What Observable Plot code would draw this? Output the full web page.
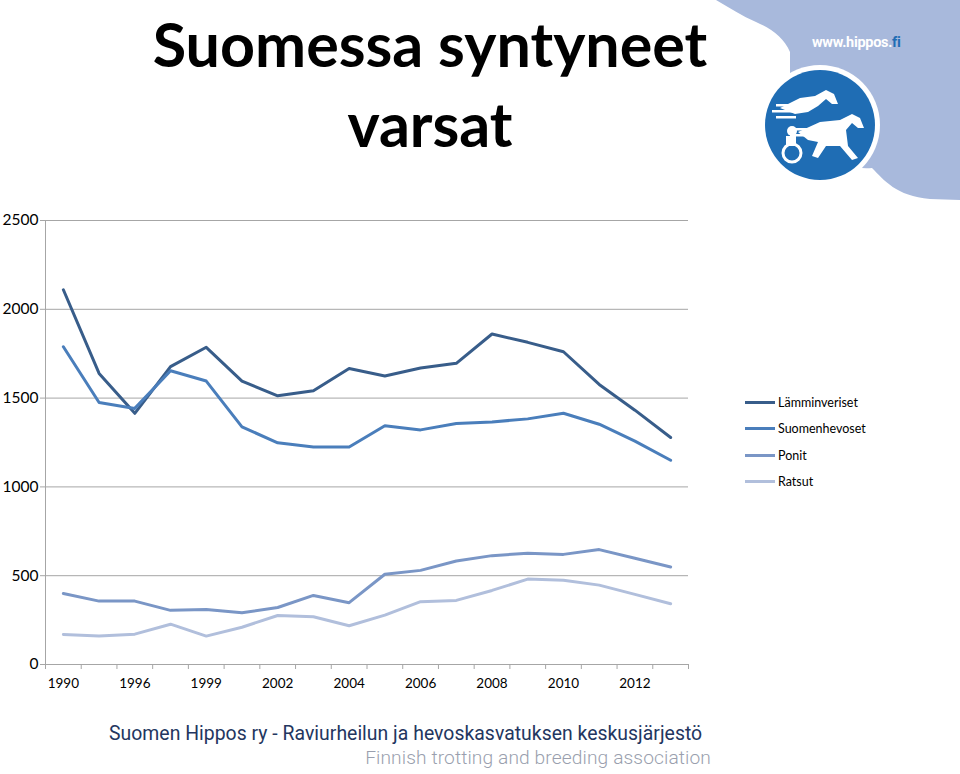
<!DOCTYPE html>
<html>
<head>
<meta charset="utf-8">
<script src="https://cdn.jsdelivr.net/npm/d3@7"></script>
<script src="https://cdn.jsdelivr.net/npm/@observablehq/plot@0.6"></script>
<style>
  html, body { margin: 0; padding: 0; background: #fff; }
  #wrap { position: relative; width: 960px; height: 774px; overflow: hidden; background: #fff; font-family: Lato, "Open Sans", sans-serif; }
  .title { position: absolute; left: 130px; width: 600px; text-align: center; font-family: Lato, sans-serif; font-weight: 700; font-size: 61px; color: #000; line-height: 1; }
  #chart { position: absolute; left: 0; top: 200px; }
  #legend { position: absolute; left: 745px; top: 389px; font-family: Lato, sans-serif; font-size: 12.5px; color: #000; }
  .lg { display: flex; align-items: center; height: 26.5px; }
  .lg span.sw { display: inline-block; width: 30px; height: 3px; margin-right: 3px; }
  .foot1 { position: absolute; left: 109px; top: 724px; line-height: 19px; font-family: Roboto, sans-serif; font-size: 19.4px; color: #233660; white-space: nowrap; letter-spacing: 0.02px; }
  .foot2 { position: absolute; right: 249px; top: 749px; line-height: 18px; font-family: Roboto, sans-serif; font-weight: 300; font-size: 19.2px; color: #9a9fae; white-space: nowrap; letter-spacing: 0.1px; }
  #logo { position: absolute; left: 0; top: 0; }
</style>
</head>
<body>
<div id="wrap">
  <svg id="logo" width="960" height="210">
    <path d="M716,0 C730,8 742,16 756,22 C772,29 784,38 790,52 L790,120 C800,160 850,170 872,168 C884,180 896,196 930,199 L960,200 L960,0 Z" fill="#a8b9dc"/>
    <circle cx="820" cy="125" r="60" fill="#fff"/>
    <circle cx="820" cy="125" r="55" fill="#1f6db4"/>
    <g fill="#fff">
      <path d="M780,108 L800,98 L815,96 L826,90 L834,94 L838,104 L832,104 L826,99 L818,106 L808,112 L795,114 Z"/>
      <path d="M798,132 L820,122 L840,120 L852,114 L860,118 L864,128 L858,128 L852,123 L846,130 L848,146 L858,158 L852,160 L840,146 L826,146 L818,158 L812,156 L818,142 L808,140 Z"/>
      <rect x="776" y="104" width="22" height="2.5"/>
      <rect x="772" y="110" width="24" height="2.5"/>
      <rect x="776" y="116" width="20" height="2.5"/>
      <rect x="792" y="128" width="22" height="2.5"/>
      <rect x="790" y="134" width="20" height="2.5"/>
      <circle cx="792" cy="131" r="5"/>
      <rect x="786" y="136" width="10" height="10"/>
    </g>
    <circle cx="792" cy="153" r="9" fill="none" stroke="#fff" stroke-width="3"/>
    <text x="812" y="47" font-family="Roboto, sans-serif" font-weight="700" font-size="14.5" fill="#fff" letter-spacing="-0.3">www.hippos.<tspan fill="#1f6db4">fi</tspan></text>
  </svg>
  <div class="title" style="top:13px;">Suomessa syntyneet</div>
  <div class="title" style="top:93px;">varsat</div>
  <div id="chart"></div>
  <div id="legend"></div>
  <div class="foot1">Suomen Hippos ry - Raviurheilun ja hevoskasvatuksen keskusjärjestö</div>
  <div class="foot2">Finnish trotting and breeding association</div>
</div>
<script>
// Categories (one per plotted point); only every other label is shown on the axis
const years = ["1990","1995","1996","1998","1999","2001","2002","2003","2004","2005","2006","2007","2008","2009","2010","2011","2012","2013"];
const shownYearIdx = [0,2,4,6,8,10,12,14,16];

const seriesNames = ["Lämminveriset","Suomenhevoset","Ponit","Ratsut"];
const seriesColors = ["#385d8a","#4a7ebb","#7a96c6","#b1bfdc"];

const lamminveriset = [2110,1639,1414,1677,1786,1596,1513,1541,1667,1624,1669,1696,1861,1814,1761,1577,1432,1278];
const suomenhevoset = [1789,1475,1442,1654,1596,1338,1248,1225,1225,1344,1321,1357,1366,1383,1415,1353,1258,1150];
const ponit         = [400,357,357,305,310,291,321,389,348,508,530,583,613,626,620,647,598,549];
const ratsut        = [169,160,171,227,160,210,276,269,218,278,354,361,417,481,474,447,395,342];

const yTicks = [0,500,1000,1500,2000,2500];

const allSeries = [lamminveriset, suomenhevoset, ponit, ratsut];
const rows = [];
allSeries.forEach((vals, s) => vals.forEach((v, i) => rows.push({series: seriesNames[s], i, value: v})));

const boundaries = d3.range(-0.5, years.length, 1);

const chart = Plot.plot({
  width: 700,
  height: 500,
  marginLeft: 45,
  marginRight: 12,
  marginTop: 20,
  marginBottom: 36,
  style: {fontFamily: "Lato, sans-serif", color: "#000", background: "transparent"},
  x: {type: "linear", domain: [-0.5, years.length - 0.5]},
  y: {domain: [0, 2500]},
  color: {domain: seriesNames, range: seriesColors},
  marks: [
    Plot.gridY(yTicks.slice(1), {stroke: "#a6a6a6", strokeOpacity: 1, strokeWidth: 1}),
    Plot.ruleY([0], {stroke: "#a6a6a6", strokeWidth: 1}),
    Plot.ruleX([-0.5], {stroke: "#a6a6a6", strokeWidth: 1}),
    Plot.axisY({ticks: yTicks, tickSize: 5, tickPadding: 2, stroke: "#a6a6a6", fontSize: 15.5, label: null, tickFormat: d => String(d)}),
    Plot.axisX({ticks: boundaries, tickSize: 5, stroke: "#a6a6a6", tickFormat: () => "", label: null}),
    Plot.axisX({ticks: shownYearIdx, tickSize: 0, tickPadding: 14, fontSize: 13.5, label: null, tickFormat: i => years[i]}),
    Plot.line(rows, {x: "i", y: "value", z: "series", stroke: "series", strokeWidth: 3, curve: "linear", strokeLinejoin: "round", strokeLinecap: "round"})
  ]
});
document.getElementById("chart").appendChild(chart);

const legend = document.getElementById("legend");
seriesNames.forEach((name, k) => {
  const row = document.createElement("div");
  row.className = "lg";
  const sw = document.createElement("span");
  sw.className = "sw";
  sw.style.background = seriesColors[k];
  row.appendChild(sw);
  row.appendChild(document.createTextNode(name));
  legend.appendChild(row);
});
</script>
</body>
</html>
